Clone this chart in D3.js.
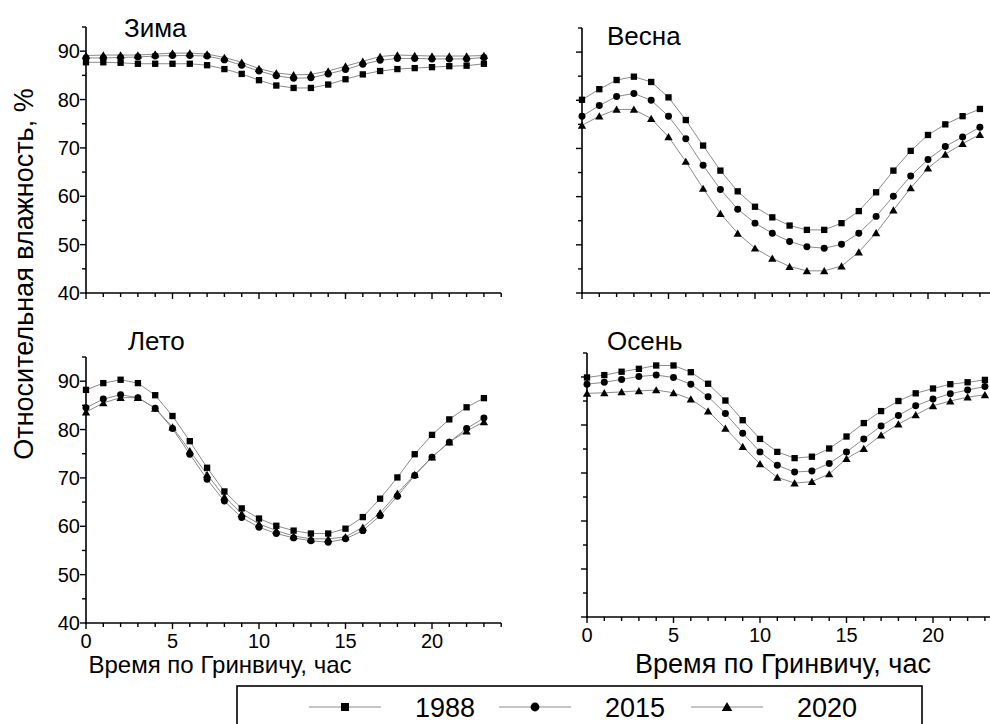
<!DOCTYPE html>
<html>
<head>
<meta charset="utf-8">
<script src="https://cdn.jsdelivr.net/npm/d3@7"></script>
<style>
  body { margin: 0; background: #fff; }
  text { font-family: "Liberation Sans", Arial, sans-serif; fill: #000; }
</style>
</head>
<body>
<div id="chart"></div>
<script>
// hours 0..23
const hours = d3.range(0, 24);
const years = ['1988', '2015', '2020'];
const seasons = ['Зима', 'Весна', 'Лето', 'Осень'];

// winter
const winter1988 = [87.7, 87.7, 87.6, 87.4, 87.4, 87.4, 87.4, 87.1, 86.3, 85.3, 84.0, 82.9, 82.4, 82.4, 83.1, 84.2, 85.2, 85.9, 86.3, 86.5, 86.7, 86.9, 87.0, 87.4];
const winter2015 = [88.6, 88.6, 88.7, 88.8, 89.0, 89.1, 89.1, 89.0, 88.2, 87.1, 85.9, 84.9, 84.4, 84.5, 85.3, 86.2, 87.3, 88.1, 88.5, 88.5, 88.4, 88.4, 88.4, 88.7];
const winter2020 = [89.1, 89.2, 89.2, 89.2, 89.4, 89.6, 89.6, 89.4, 88.7, 87.7, 86.4, 85.5, 85.1, 85.2, 85.9, 86.9, 87.9, 88.9, 89.2, 89.1, 89.0, 89.0, 89.0, 89.1];
// spring
const spring1988 = [80.1, 82.3, 84.2, 84.9, 83.8, 80.6, 75.9, 70.6, 65.4, 61.1, 57.9, 55.7, 54.0, 53.1, 53.1, 54.5, 57.0, 60.9, 65.4, 69.5, 72.8, 75.0, 76.7, 78.2];
const spring2015 = [76.7, 78.9, 80.8, 81.4, 80.0, 76.7, 72.0, 66.5, 61.5, 57.4, 54.5, 52.4, 50.7, 49.6, 49.3, 50.1, 52.4, 55.9, 60.1, 64.3, 67.7, 70.4, 72.4, 74.4];
const spring2020 = [74.8, 76.7, 78.1, 78.1, 76.2, 72.4, 67.3, 61.7, 56.5, 52.4, 49.3, 47.2, 45.5, 44.6, 44.6, 45.6, 48.5, 52.5, 57.2, 61.8, 65.9, 68.8, 71.0, 72.9];
// summer
const summer1988 = [88.2, 89.6, 90.3, 89.6, 87.1, 82.8, 77.6, 72.1, 67.2, 63.7, 61.6, 60.1, 59.1, 58.5, 58.5, 59.5, 61.9, 65.7, 70.1, 74.9, 78.9, 82.1, 84.6, 86.5];
const summer2015 = [84.5, 86.3, 87.2, 86.6, 84.4, 80.2, 74.9, 69.7, 65.2, 61.8, 59.8, 58.5, 57.6, 57.0, 56.7, 57.4, 59.1, 62.2, 66.2, 70.5, 74.3, 77.4, 80.2, 82.4];
const summer2020 = [83.6, 85.5, 86.6, 86.6, 84.4, 80.5, 75.6, 70.7, 66.1, 62.6, 60.5, 59.1, 58.0, 57.4, 57.4, 57.8, 59.8, 62.8, 66.8, 70.7, 74.3, 77.4, 79.7, 81.6];
// autumn
const autumn1988 = [89.9, 90.4, 91.1, 91.7, 92.4, 92.4, 91.0, 88.6, 85.1, 81.0, 77.1, 74.4, 73.1, 73.4, 75.1, 77.6, 80.4, 82.9, 85.0, 86.6, 87.6, 88.5, 88.9, 89.4];
const autumn2015 = [88.5, 88.9, 89.5, 90.1, 90.4, 89.9, 88.5, 85.9, 82.4, 78.3, 74.4, 71.6, 70.2, 70.4, 72.0, 74.4, 77.1, 79.8, 82.0, 84.0, 85.4, 86.5, 87.3, 88.0];
const autumn2020 = [86.6, 86.7, 86.9, 87.1, 87.3, 86.7, 85.4, 82.9, 79.3, 75.5, 71.9, 69.1, 67.9, 68.2, 69.8, 73.0, 75.1, 77.9, 80.2, 82.1, 84.0, 85.0, 85.8, 86.3];

const seasonData = [
  [winter1988, winter2015, winter2020],
  [spring1988, spring2015, spring2020],
  [summer1988, summer2015, summer2020],
  [autumn1988, autumn2015, autumn2020],
];

const yTicks = [40, 50, 60, 70, 80, 90];
const xTicks = [0, 5, 10, 15, 20];

const width = 990;
const height = 724;

// panel placement: x0 = x of hour 0, yb = y of 40 %, yt = y of 95 %
const panels = [
  { x0: 86, yb: 293, yt: 27, yLabels: true, xLabels: false, tx: 124, ty: 37 },
  { x0: 582, yb: 293, yt: 28, yLabels: false, xLabels: false, tx: 607, ty: 45 },
  { x0: 86, yb: 623, yt: 357, yLabels: true, xLabels: true, tx: 128, ty: 350 },
  { x0: 587, yb: 617, yt: 353, yLabels: false, xLabels: true, tx: 607, ty: 350 },
];

const symbols = [d3.symbolSquare, d3.symbolCircle, d3.symbolTriangle];
const symSize = [40, 38, 30];

const svg = d3.select('#chart')
  .append('svg')
  .attr('width', width)
  .attr('height', height);

svg.append('rect').attr('width', width).attr('height', height).attr('fill', '#fff');

panels.forEach((p, pi) => {
  const x = d3.scaleLinear().domain([0, 24]).range([p.x0, p.x0 + 24 * 17.3]);
  const y = d3.scaleLinear().domain([40, 95]).range([p.yb, p.yt]);

  const g = svg.append('g');

  // series lines then markers
  seasonData[pi].forEach((vals) => {
    const line = d3.line()
      .x((d, i) => x(hours[i]))
      .y((d) => y(d));
    g.append('path')
      .attr('d', line(vals))
      .attr('fill', 'none')
      .attr('stroke', '#8a8a8a')
      .attr('stroke-width', 1);
  });
  seasonData[pi].forEach((vals, si) => {
    g.selectAll(null)
      .data(vals)
      .enter()
      .append('path')
      .attr('d', d3.symbol().type(symbols[si]).size(symSize[si]))
      .attr('transform', (d, i) => `translate(${x(hours[i])},${y(d) + (si === 2 ? 1 : 0)})`)
      .attr('fill', '#000');
  });

  // x axis: line, ticks every hour, labels every 5
  const xg = g.append('g')
    .attr('transform', `translate(0,${p.yb})`);
  xg.append('line')
    .attr('x1', x(0) - 1).attr('x2', x(24))
    .attr('stroke', '#000').attr('stroke-width', 1.6);
  xg.selectAll('.xtick')
    .data(d3.range(0, 25))
    .enter()
    .append('line')
    .attr('x1', (d) => x(d)).attr('x2', (d) => x(d))
    .attr('y1', 0).attr('y2', (d) => (d % 5 === 0 ? 6 : 4))
    .attr('stroke', '#000').attr('stroke-width', 1.4);
  if (p.xLabels) {
    xg.selectAll('.lbl')
      .data(xTicks)
      .enter()
      .append('text')
      .attr('x', (d) => x(d))
      .attr('y', 25)
      .attr('text-anchor', 'middle')
      .style('font-size', '20px')
      .text((d) => d);
  }

  // y axis
  const yg = g.append('g').attr('transform', `translate(${p.x0},0)`);
  yg.append('line')
    .attr('y1', y(95)).attr('y2', p.yb + 1)
    .attr('stroke', '#000').attr('stroke-width', 1.6);
  yg.selectAll('.ytick')
    .data(d3.range(40, 96, 5))
    .enter()
    .append('line')
    .attr('y1', (d) => y(d)).attr('y2', (d) => y(d))
    .attr('x1', 0).attr('x2', (d) => (d % 10 === 0 ? -6 : -4))
    .attr('stroke', '#000').attr('stroke-width', 1.4);
  if (p.yLabels) {
    yg.selectAll('.ylbl')
      .data(yTicks)
      .enter()
      .append('text')
      .attr('x', -6)
      .attr('y', (d) => y(d) + 7)
      .attr('text-anchor', 'end')
      .style('font-size', '20px')
      .text((d) => d);
  }

  g.append('text')
    .attr('x', p.tx)
    .attr('y', p.ty)
    .style('font-size', '26px')
    .text(seasons[pi]);
});

// axis titles
svg.append('text')
  .attr('transform', 'translate(33,274) rotate(-90)')
  .attr('text-anchor', 'middle')
  .style('font-size', '27px')
  .text('Относительная влажность, %');

svg.append('text')
  .attr('x', 220)
  .attr('y', 673)
  .attr('text-anchor', 'middle')
  .style('font-size', '24px')
  .text('Время по Гринвичу, час');

svg.append('text')
  .attr('x', 783)
  .attr('y', 673)
  .attr('text-anchor', 'middle')
  .style('font-size', '27px')
  .text('Время по Гринвичу, час');

// legend
const legend = svg.append('g');
legend.append('rect')
  .attr('x', 237).attr('y', 686)
  .attr('width', 685).attr('height', 50)
  .attr('fill', '#fff')
  .attr('stroke', '#000').attr('stroke-width', 1.6);

const legX = [345, 535, 727];
years.forEach((yr, i) => {
  const lx = legX[i];
  legend.append('line')
    .attr('x1', lx - 36).attr('x2', lx + 36)
    .attr('y1', 707).attr('y2', 707)
    .attr('stroke', '#8a8a8a').attr('stroke-width', 1);
  legend.append('path')
    .attr('d', d3.symbol().type(symbols[i]).size(symSize[i] * 1.6))
    .attr('transform', `translate(${lx},${707 + (i === 2 ? 1 : 0)})`)
    .attr('fill', '#000');
  legend.append('text')
    .attr('x', lx + 70)
    .attr('y', 717)
    .style('font-size', '27px')
    .text(yr);
});
</script>
</body>
</html>
